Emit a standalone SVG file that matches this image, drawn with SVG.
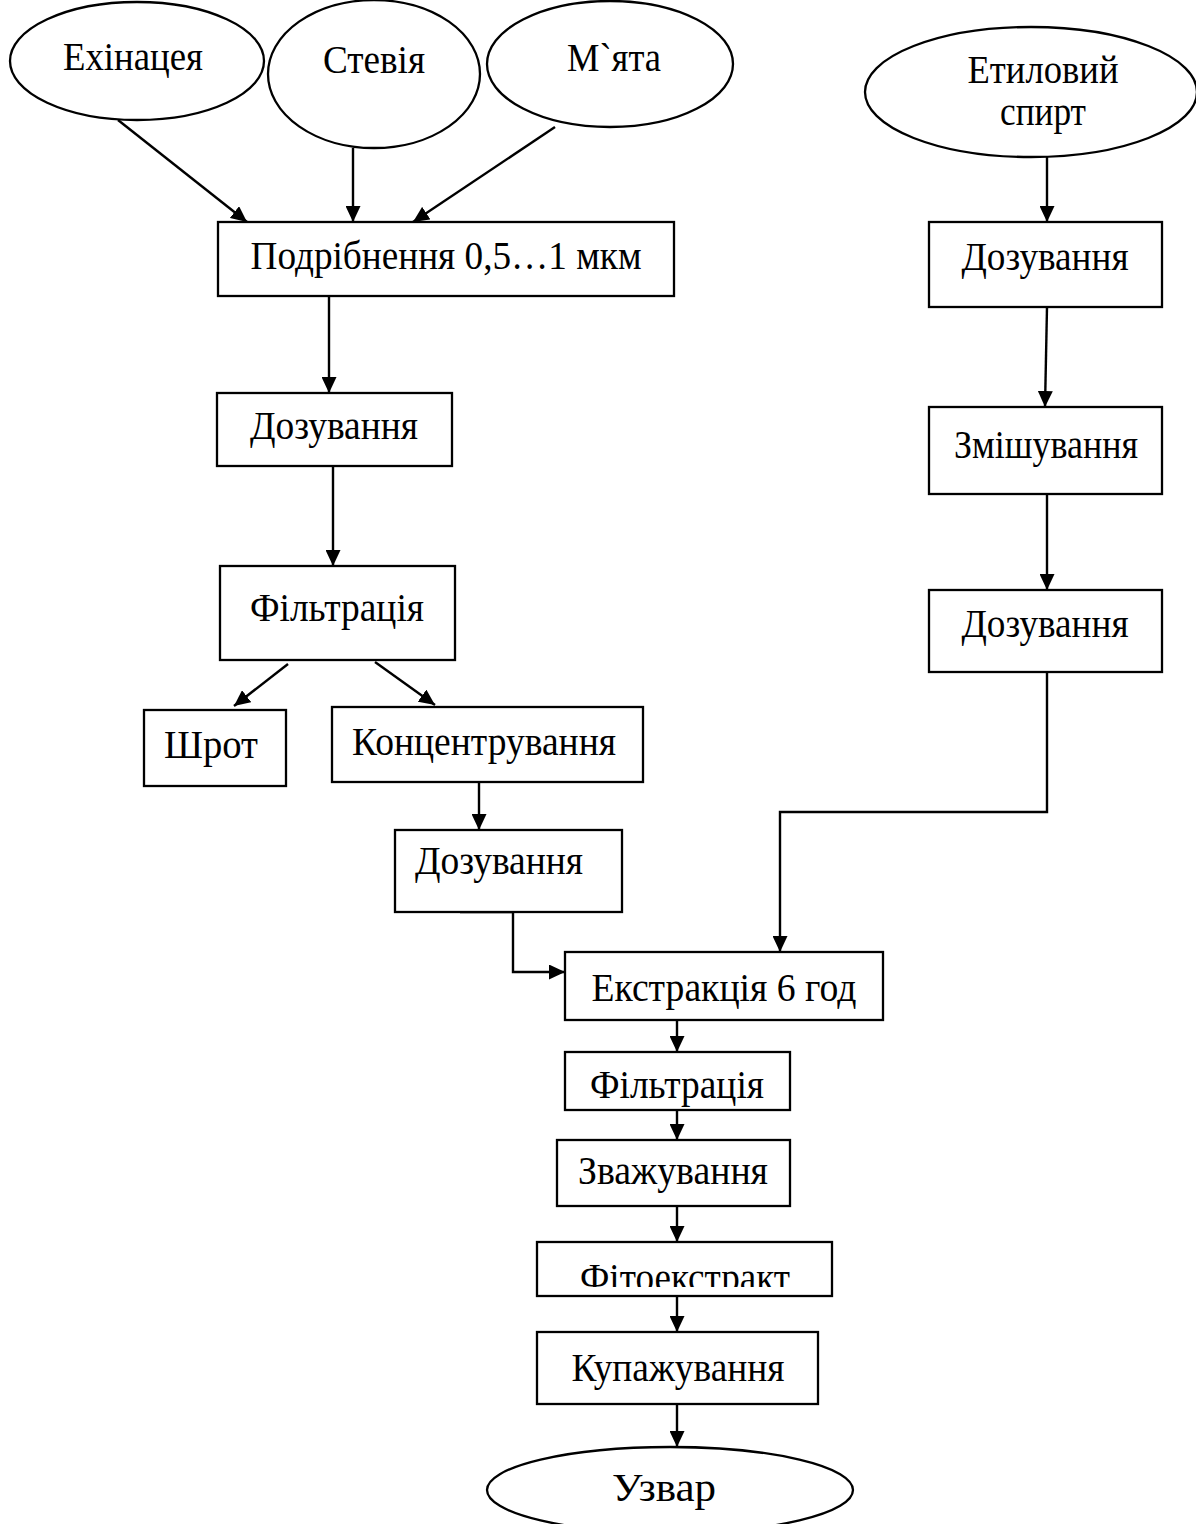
<svg xmlns="http://www.w3.org/2000/svg" width="1196" height="1524" viewBox="0 0 1196 1524">
<style>
.n{fill:#fff;stroke:#000;stroke-width:2.3}
.t{font-family:"Liberation Serif","Times New Roman",serif;font-size:39px;fill:#000;text-anchor:middle}
.c{fill:none;stroke:#000;stroke-width:2.4}
</style>
<defs>
<marker id="a" markerUnits="userSpaceOnUse" markerWidth="16" markerHeight="15" refX="16" refY="7.5" orient="auto">
<path d="M0,0 L16,7.5 L0,15 z" fill="#000"/>
</marker>
<clipPath id="clipF"><rect x="537" y="1242" width="295" height="45"/></clipPath>
</defs>
<g id="connectors">
<line class="c" x1="118" y1="120" x2="247" y2="222" marker-end="url(#a)"/>
<line class="c" x1="353" y1="148" x2="353" y2="222" marker-end="url(#a)"/>
<line class="c" x1="555" y1="127" x2="413" y2="222" marker-end="url(#a)"/>
<line class="c" x1="329" y1="296" x2="329" y2="393" marker-end="url(#a)"/>
<line class="c" x1="333" y1="466" x2="333" y2="566" marker-end="url(#a)"/>
<line class="c" x1="288" y1="664" x2="234" y2="706" marker-end="url(#a)"/>
<line class="c" x1="375" y1="662" x2="435" y2="705" marker-end="url(#a)"/>
<line class="c" x1="479" y1="782" x2="479" y2="830" marker-end="url(#a)"/>
<polyline class="c" points="460,912 513,912 513,972 565,972" marker-end="url(#a)"/>
<line class="c" x1="1047" y1="157" x2="1047" y2="222" marker-end="url(#a)"/>
<line class="c" x1="1047" y1="307" x2="1045" y2="407" marker-end="url(#a)"/>
<line class="c" x1="1047" y1="494" x2="1047" y2="590" marker-end="url(#a)"/>
<polyline class="c" points="1047,672 1047,812 780,812 780,952" marker-end="url(#a)"/>
<line class="c" x1="677" y1="1020" x2="677" y2="1052" marker-end="url(#a)"/>
<line class="c" x1="677" y1="1110" x2="677" y2="1140" marker-end="url(#a)"/>
<line class="c" x1="677" y1="1206" x2="677" y2="1242" marker-end="url(#a)"/>
<line class="c" x1="677" y1="1296" x2="677" y2="1332" marker-end="url(#a)"/>
<line class="c" x1="677" y1="1404" x2="677" y2="1447" marker-end="url(#a)"/>
</g>
<g id="n-exinacea"><ellipse class="n" cx="137" cy="61" rx="127" ry="59"/><text class="t" x="133" y="70" textLength="140" lengthAdjust="spacingAndGlyphs">Ехінацея</text></g>
<g id="n-stevia"><ellipse class="n" cx="374" cy="74" rx="106" ry="74"/><text class="t" x="374" y="73" textLength="102" lengthAdjust="spacingAndGlyphs">Стевія</text></g>
<g id="n-myata"><ellipse class="n" cx="610" cy="64" rx="123" ry="63"/><text class="t" x="614" y="71" textLength="94" lengthAdjust="spacingAndGlyphs">М`ята</text></g>
<g id="n-spirt"><ellipse class="n" cx="1031" cy="92" rx="166" ry="65"/><text class="t" x="1043" y="83" textLength="151" lengthAdjust="spacingAndGlyphs">Етиловий</text><text class="t" x="1043" y="125" textLength="86" lengthAdjust="spacingAndGlyphs">спирт</text></g>
<g id="n-podribnennya"><rect class="n" x="218" y="222" width="456" height="74"/><text class="t" x="446" y="269" textLength="391" lengthAdjust="spacingAndGlyphs">Подрібнення 0,5…1 мкм</text></g>
<g id="n-dozuv1"><rect class="n" x="217" y="393" width="235" height="73"/><text class="t" x="334" y="439" textLength="168" lengthAdjust="spacingAndGlyphs">Дозування</text></g>
<g id="n-filtr1"><rect class="n" x="220" y="566" width="235" height="94"/><text class="t" x="337" y="621" textLength="174" lengthAdjust="spacingAndGlyphs">Фільтрація</text></g>
<g id="n-shrot"><rect class="n" x="144" y="710" width="142" height="76"/><text class="t" x="211" y="758" textLength="94" lengthAdjust="spacingAndGlyphs">Шрот</text></g>
<g id="n-konc"><rect class="n" x="332" y="707" width="311" height="75"/><text class="t" x="484" y="755" textLength="264" lengthAdjust="spacingAndGlyphs">Концентрування</text></g>
<g id="n-dozuv2"><rect class="n" x="395" y="830" width="227" height="82"/><text class="t" x="499" y="874" textLength="168" lengthAdjust="spacingAndGlyphs">Дозування</text></g>
<g id="n-dozuv-r1"><rect class="n" x="929" y="222" width="233" height="85"/><text class="t" x="1045" y="270" textLength="167" lengthAdjust="spacingAndGlyphs">Дозування</text></g>
<g id="n-zmish"><rect class="n" x="929" y="407" width="233" height="87"/><text class="t" x="1046" y="458" textLength="184" lengthAdjust="spacingAndGlyphs">Змішування</text></g>
<g id="n-dozuv-r2"><rect class="n" x="929" y="590" width="233" height="82"/><text class="t" x="1045" y="637" textLength="167" lengthAdjust="spacingAndGlyphs">Дозування</text></g>
<g id="n-ekstr"><rect class="n" x="565" y="952" width="318" height="68"/><text class="t" x="724" y="1001" textLength="265" lengthAdjust="spacingAndGlyphs">Екстракція 6 год</text></g>
<g id="n-filtr2"><rect class="n" x="565" y="1052" width="225" height="58"/><text class="t" x="677" y="1098" textLength="174" lengthAdjust="spacingAndGlyphs">Фільтрація</text></g>
<g id="n-zvazh"><rect class="n" x="557" y="1140" width="233" height="66"/><text class="t" x="673" y="1184" textLength="190" lengthAdjust="spacingAndGlyphs">Зважування</text></g>
<g id="n-fito"><rect class="n" x="537" y="1242" width="295" height="54"/><text class="t" x="685" y="1291" textLength="210" lengthAdjust="spacingAndGlyphs" clip-path="url(#clipF)">Фітоекстракт</text></g>
<g id="n-kupazh"><rect class="n" x="537" y="1332" width="281" height="72"/><text class="t" x="678" y="1381" textLength="213" lengthAdjust="spacingAndGlyphs">Купажування</text></g>
<g id="n-uzvar"><ellipse class="n" cx="670" cy="1490" rx="183" ry="43"/><text class="t" x="664" y="1501" textLength="104" lengthAdjust="spacingAndGlyphs">Узвар</text></g>
</svg>
